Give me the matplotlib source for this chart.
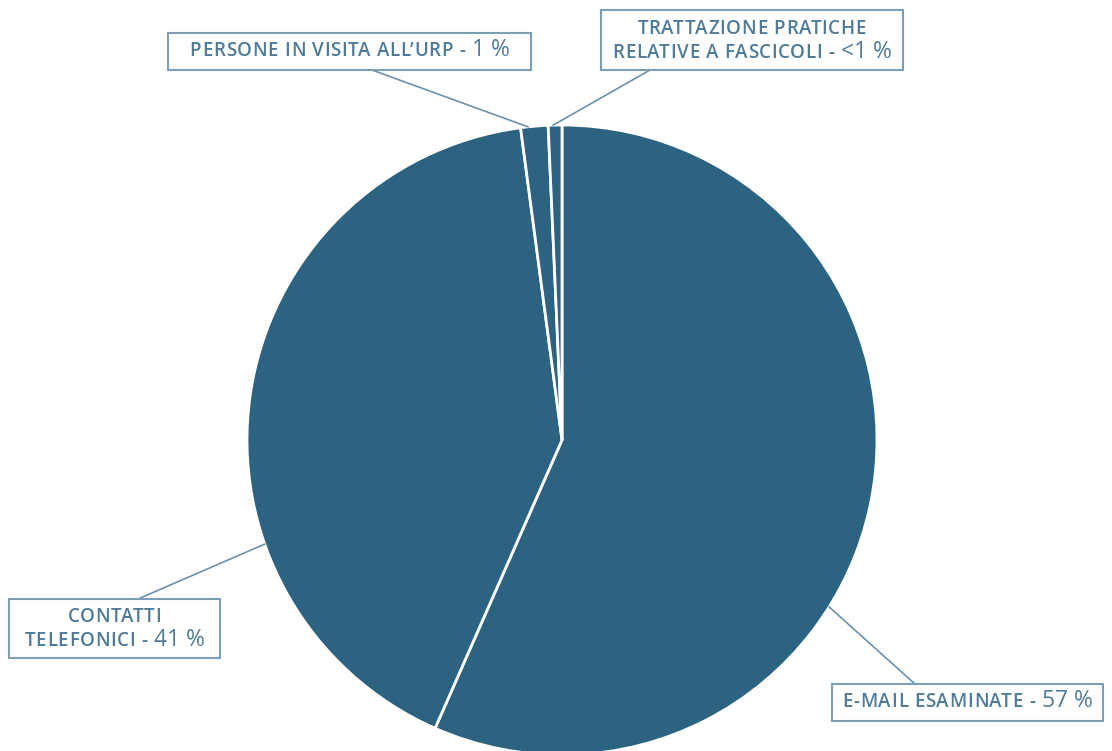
import numpy as np
import matplotlib.pyplot as plt
from matplotlib.patches import Rectangle

# data
categories = ['E-mail esaminate', 'Contatti telefonici', "Persone in visita all'URP",
              'Trattazione pratiche relative a fascicoli']
shares = [56.6, 41.3, 1.4, 0.7]
# label text: list of lines, each line = (small caps part, number part)
label_lines = [
    [('E-MAIL ESAMINATE - ', '57 %')],
    [('CONTATTI', ''), ('TELEFONICI - ', '41 %')],
    [('PERSONE IN VISITA ALL\u2019URP - ', '1 %')],
    [('TRATTAZIONE PRATICHE', ''), ('RELATIVE A FASCICOLI - ', '<1 %')],
]

W, H = 1112, 751
PIE_COLOR = '#2c6381'
TEXT_COLOR = '#4f7b99'
BOX_COLOR = '#7d9fb8'
LINE_COLOR = '#6b91ad'

# layout in pixels (x, y from top): box left, top, right, bottom; anchor angle on pie
boxes = [(832, 684, 1103, 721), (9, 599, 220, 658), (168, 33, 531, 70), (601, 10, 903, 70)]
leader_start = [(915, 684), (138, 599), (372, 70), (650, 70)]
anchor_angle = [-32.0, 199.3, 96.2, 91.6]
center = (562, 440)
radius = 315

plt.rcParams['font.family'] = ['Open Sans', 'DejaVu Sans']

fig = plt.figure(figsize=(W / 100, H / 100), dpi=100)
ax = fig.add_axes([0, 0, 1, 1])

def py(y):
    return H - y

ax.pie(shares, center=(center[0], py(center[1])), radius=radius, startangle=90,
       counterclock=False, colors=[PIE_COLOR] * len(shares),
       wedgeprops=dict(edgecolor='white', linewidth=2))
ax.set_xlim(0, W)
ax.set_ylim(0, H)
ax.set_aspect('equal')
ax.axis('off')

for (x0, y0), ang in zip(leader_start, anchor_angle):
    ex = center[0] + radius * np.cos(np.radians(ang))
    ey = py(center[1]) + radius * np.sin(np.radians(ang))
    ax.plot([x0, ex], [py(y0), ey], color=LINE_COLOR, lw=1.2, zorder=3)

for (l, t, r, b) in boxes:
    ax.add_patch(Rectangle((l, py(b)), r - l, b - t, facecolor='white',
                           edgecolor=BOX_COLOR, lw=1.5, zorder=4))

fig.canvas.draw()
renderer = fig.canvas.get_renderer()
# (size, tracking, weight) for small caps part and for number part
small_style = (13.5, 0.7, 'semibold')
big_style = (16.5, 0.0, 'normal')

probe = ax.text(0, 0, '')

def ink(s, style):
    probe.set_fontsize(style[0])
    probe.set_fontweight(style[2])
    probe.set_text(s)
    return probe.get_window_extent(renderer).width

def char_positions(s, style):
    # ink-left position of every glyph, relative to the first glyph, plus total width
    pos = []
    for i, ch in enumerate(s):
        if ch == ' ':
            pos.append(None)
            continue
        p = ink('X' + s[:i + 1], style) - ink(ch, style)
        pos.append(p + i * style[1])
    base = ink('X' + s[0], style) - ink(s[0], style)
    pos = [None if p is None else p - base for p in pos]
    total = ink('X' + s + 'X', style) - ink('XX', style) + len(s) * style[1]
    return pos, total

for (l, t, r, b), lines in zip(boxes, label_lines):
    cx = (l + r) / 2
    cy = (t + b) / 2
    if len(lines) == 1:
        baselines = [cy + 4.5]
    else:
        baselines = [cy - 6.5, cy + 17.5]
    for (s_txt, n_txt), base in zip(lines, baselines):
        segs = [(s, st) for s, st in ((s_txt, small_style), (n_txt, big_style)) if s]
        laid = [char_positions(s, st) for s, st in segs]
        total = sum(tw for _, tw in laid)
        x = cx - total / 2
        for (s, st), (pos, tw) in zip(segs, laid):
            for ch, p in zip(s, pos):
                if p is None:
                    continue
                ax.text(x + p, py(base), ch, fontsize=st[0], fontweight=st[2],
                        color=TEXT_COLOR, va='baseline', ha='left', zorder=5)
            x += tw

probe.set_visible(False)
fig.savefig('out.png', dpi=100)
